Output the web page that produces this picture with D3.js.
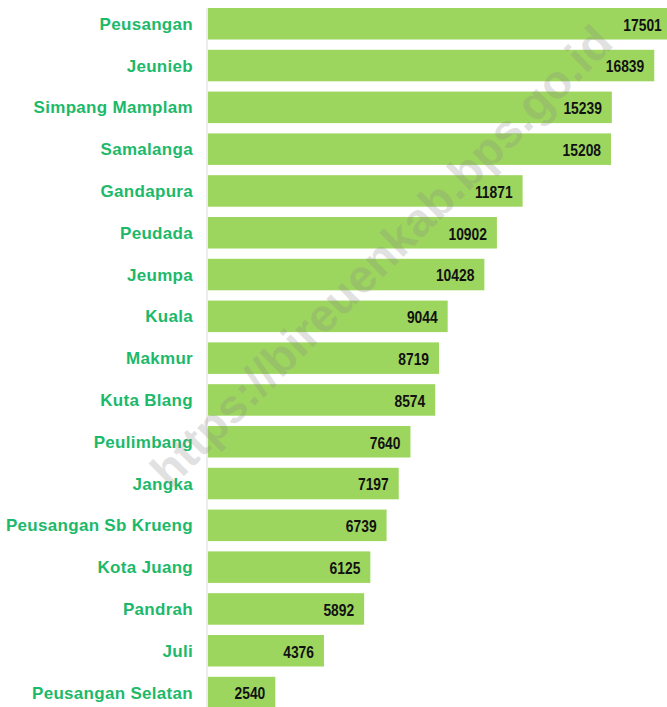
<!DOCTYPE html>
<html lang="en">
    <head>
        <title>Bireuen bar chart</title>
        <script src="https://cdnjs.cloudflare.com/ajax/libs/d3/7.7.0/d3.min.js"></script>
        <style>
            body { margin: 0; background: #fff; }
            .cat { font-family: "Liberation Sans", Arial, sans-serif; font-weight: bold; font-size: 17px; letter-spacing: 0.3px; fill: #1db96a; }
            .val { font-family: "Liberation Sans", Arial, sans-serif; font-weight: bold; font-size: 16px; fill: #111; }
            .wm { font-family: "Liberation Sans", Arial, sans-serif; font-weight: bold; font-size: 47px; fill: #888; fill-opacity: 0.25; }
        </style>
    </head>
    <body>
        <div class="graph"></div>
        <script>
    const categories = ["Peusangan", "Jeunieb", "Simpang Mamplam", "Samalanga", "Gandapura", "Peudada",
        "Jeumpa", "Kuala", "Makmur", "Kuta Blang", "Peulimbang", "Jangka", "Peusangan Sb Krueng",
        "Kota Juang", "Pandrah", "Juli", "Peusangan Selatan"];
    const values = [17501, 16839, 15239, 15208, 11871, 10902, 10428, 9044, 8719, 8574, 7640, 7197,
        6739, 6125, 5892, 4376, 2540];
    const watermark = "https://bireuenkab.bps.go.id";

    const w = 667;
    const h = 707;
    const left = 208;

    const xScale = d3.scaleLinear()
                     .domain([0, 17320])
                     .range([left, w]);
    const yScale = d3.scaleBand()
                     .domain(categories)
                     .range([2.85, 713.45])
                     .paddingInner(0.246)
                     .paddingOuter(0.123);

    const svg = d3.select(".graph")
                  .append("svg")
                  .attr("width", w)
                  .attr("height", h);

    svg.selectAll("rect")
       .data(values)
       .enter()
       .append("rect")
       .attr("x", left)
       .attr("y", (d, i) => yScale(categories[i]))
       .attr("width", d => xScale(d) - left)
       .attr("height", yScale.bandwidth())
       .attr("fill", "#9dd65e");

    // axis line on the left of the bars
    svg.append("line")
       .attr("x1", left - 1).attr("x2", left - 1)
       .attr("y1", 8).attr("y2", h)
       .attr("stroke", "#d9d9d9")
       .attr("stroke-width", 1);

    svg.selectAll(".cat")
       .data(categories)
       .enter()
       .append("text")
       .attr("class", "cat")
       .attr("x", 193)
       .attr("y", d => yScale(d) + yScale.bandwidth() / 2)
       .attr("dy", "0.36em")
       .attr("text-anchor", "end")
       .text(d => d);

    // value labels, squeezed a bit to look like a narrow font
    svg.selectAll(".val")
       .data(values)
       .enter()
       .append("text")
       .attr("class", "val")
       .attr("transform", (d, i) => "translate(" + (xScale(d) - 10) + "," + (yScale(categories[i]) + yScale.bandwidth() / 2 + 1) + ") scale(0.865,1)")
       .attr("dy", "0.36em")
       .attr("text-anchor", "end")
       .text(d => d);

    //watermark
    svg.append("text")
       .attr("class", "wm")
       .attr("transform", "translate(381,256) rotate(-45)")
       .attr("text-anchor", "middle")
       .attr("dy", "0.35em")
       .text(watermark);
        </script>
    </body>
</html>
